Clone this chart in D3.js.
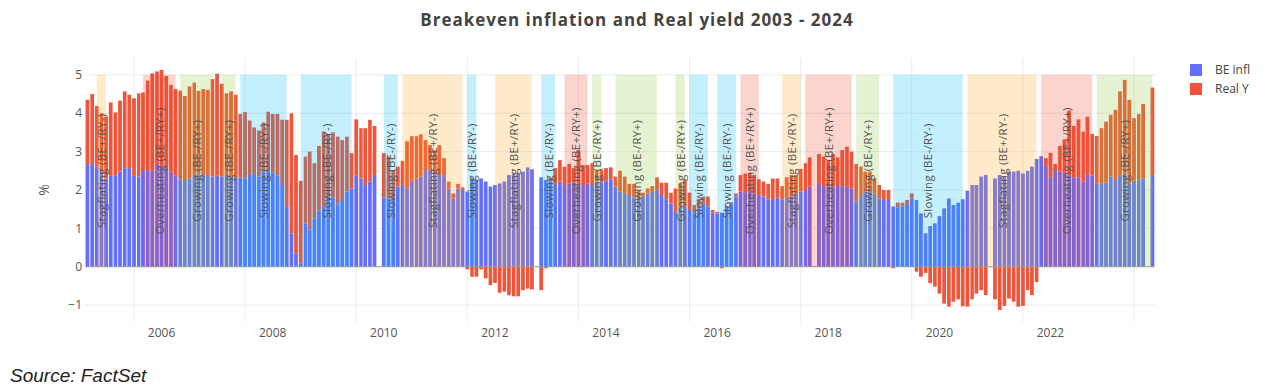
<!DOCTYPE html>
<html><head><meta charset="utf-8">
<script src="https://cdn.jsdelivr.net/npm/d3@7"></script>
<style>body{margin:0;background:#fff;} svg{display:block}</style>
</head><body><svg id="c" width="1266" height="386"></svg>
<script>
// ---------------- DATA ----------------
const startMonth = "2005-03";
const endMonth = "2024-05";
const seriesNames = ["BE infl", "Real Y"];
const beInfl = [
2.65,2.70,2.61,2.48,2.30,2.37,2.37,2.48,2.57,2.57,2.37,2.35,2.52,2.52,2.50,2.68,2.63,2.57,2.48,2.37,
2.28,2.26,2.30,2.39,2.43,2.39,2.39,2.35,2.37,2.35,2.39,2.35,2.33,2.33,2.30,2.39,2.42,2.35,2.48,2.50,
2.45,2.37,2.13,1.58,0.87,0.35,0.09,1.13,0.97,1.26,1.46,1.57,1.83,1.80,1.63,1.74,1.96,2.04,2.37,2.30,
2.13,2.22,2.39,null,1.81,1.78,1.76,2.09,2.13,2.06,2.24,2.30,2.35,2.52,2.54,2.43,2.42,2.39,2.04,1.78,
2.04,2.02,1.96,2.30,2.26,2.30,2.22,2.09,2.13,2.17,2.22,2.39,2.43,2.43,2.48,2.59,2.54,null,2.33,2.26,
2.22,2.13,2.22,2.13,2.17,2.19,2.16,2.13,2.17,2.13,2.22,2.19,2.24,2.28,2.09,1.96,1.91,1.87,1.81,1.78,
1.83,1.91,1.95,2.02,1.87,1.76,1.65,1.43,1.57,1.57,1.48,1.39,1.52,1.65,1.57,1.41,1.39,1.41,1.57,1.63,
1.83,1.96,1.94,1.96,1.91,1.87,1.83,1.76,1.74,1.81,1.76,1.81,1.84,1.91,1.96,2.00,2.09,null,2.16,2.10,
2.09,2.07,2.13,2.10,2.09,2.04,1.70,1.87,1.96,1.98,1.91,1.78,1.74,1.74,1.57,1.55,1.57,1.61,1.78,1.74,
1.39,0.87,1.06,1.13,1.32,1.52,1.78,1.61,1.67,1.76,1.98,2.13,2.13,2.35,2.39,null,2.30,2.39,2.35,2.48,
2.48,2.50,2.43,2.50,2.61,2.81,2.87,2.63,2.33,2.52,2.48,2.45,2.37,2.33,2.33,2.22,2.42,2.37,2.16,2.16,
2.19,2.35,2.26,2.37,2.42,2.16,2.24,2.28,2.30,null,2.39
];
const realY = [
1.70,1.80,1.58,1.52,1.61,1.91,1.65,1.85,2.00,1.91,2.02,2.17,2.02,2.33,2.54,2.41,2.50,2.40,2.26,2.26,
2.31,2.19,2.40,2.41,2.15,2.24,2.22,2.54,2.66,2.42,2.13,2.22,2.15,1.65,1.73,1.42,1.21,1.20,1.28,1.54,
1.53,1.61,1.70,2.25,3.13,2.56,2.15,1.74,2.03,1.44,1.69,1.95,1.63,1.70,1.76,1.56,1.43,0.92,1.47,1.31,
1.48,1.61,1.28,null,1.15,1.09,0.76,0.52,0.63,1.21,1.16,1.10,1.10,0.78,0.63,0.61,0.75,0.44,0.18,0.13,
0.12,0.05,-0.07,-0.26,-0.26,-0.07,-0.30,-0.48,-0.42,-0.68,-0.65,-0.74,-0.77,-0.77,-0.61,-0.57,-0.59,null,-0.61,-0.04,
0.10,0.44,0.56,0.48,0.51,0.38,0.88,0.52,0.48,0.57,0.30,0.33,0.33,0.31,0.26,0.54,0.44,0.29,0.35,0.21,
0.10,0.13,0.15,0.31,0.32,0.43,0.28,0.61,0.60,0.69,0.45,0.22,0.24,0.18,0.26,0.07,0.04,-0.04,0.02,0.05,
0.08,0.43,0.49,0.49,0.48,0.41,0.39,0.40,0.56,0.49,0.34,0.52,0.55,0.48,0.59,0.70,0.76,null,0.78,0.77,
0.69,0.87,0.72,0.94,1.04,0.96,0.98,0.74,0.52,0.50,0.39,0.35,0.26,0.26,-0.04,0.12,0.10,0.13,0.13,-0.13,
-0.26,-0.16,-0.43,-0.52,-0.70,-0.96,-1.04,-0.91,-0.85,-1.03,-1.04,-0.85,-0.70,-0.61,-0.74,null,-0.85,-1.13,-1.02,-0.83,
-0.91,-1.04,-1.02,-0.61,-0.74,-0.40,0.02,0.20,0.64,0.16,0.67,0.87,1.70,1.34,1.51,1.30,1.49,1.09,1.25,1.45,
1.59,1.61,1.83,2.20,2.45,2.19,1.63,1.70,1.94,null,2.28
];
const regimeType = ["Stagflating","Overheating","Growing","Growing","Slowing","Slowing","Slowing","Stagflating",
  "Slowing","Stagflating","Slowing","Overheating","Growing","Growing","Growing","Slowing","Slowing","Overheating",
  "Stagflating","Overheating","Growing","Slowing","Stagflating","Overheating","Growing"];
const regimeStart = ["2005-05","2006-03","2006-11","2007-08","2007-12","2009-01","2010-07","2010-11",
  "2012-01","2012-07","2013-05","2013-10","2014-04","2014-09","2015-10","2016-01","2016-07","2016-12",
  "2017-09","2018-02","2019-01","2019-09","2021-01","2022-05","2023-05"];
const regimeEnd = ["2005-07","2006-10","2007-06","2007-11","2008-10","2009-12","2010-10","2011-12",
  "2012-03","2013-03","2013-08","2014-03","2014-06","2015-06","2015-12","2016-05","2016-11","2017-04",
  "2018-01","2018-12","2019-06","2020-12","2022-04","2023-04","2024-05"];
const regimeNames = ["Slowing","Stagflating","Overheating","Growing"];
const regimeLabels = ["Slowing (BE-/RY-)","Stagflating (BE+/RY-)","Overheating (BE+/RY+)","Growing (BE-/RY+)"];
const yTicks = [-1, 0, 1, 2, 3, 4, 5];
const xTickYears = [2006, 2008, 2010, 2012, 2014, 2016, 2018, 2020, 2022, 2024];
const titleText = "Breakeven inflation and Real yield 2003 - 2024";
const sourceText = "Source: FactSet";

// ---------------- LAYOUT ----------------
const svg = d3.select("#c");
const W = 1266, H = 386;
const plot = {left: 85, right: 1155, top: 58, bottom: 322};
const colors = ["#636efa", "#ef553b"];
const regimeFill = d3.scaleOrdinal().domain(regimeNames)
  .range(["#00bcf0", "#ffa41a", "#f0452a", "#94cc3c"]);
const regimeOpacity = 0.23;
const labelOf = d3.scaleOrdinal().domain(regimeNames).range(regimeLabels);

const parseM = d3.utcParse("%Y-%m");
const months = d3.utcMonth.range(parseM(startMonth), d3.utcMonth.offset(parseM(endMonth), 1));
const x = d3.scaleUtc().domain([Date.UTC(2006,0,1), Date.UTC(2024,0,1)]).range([134, 1134]);
const y = d3.scaleLinear().domain([-1.44, 5.44]).range([plot.bottom, plot.top]);

svg.append("rect").attr("width", W).attr("height", H).attr("fill", "#fff");

svg.append("defs").append("clipPath").attr("id", "clip")
  .append("rect").attr("x", plot.left).attr("y", plot.top)
  .attr("width", plot.right - plot.left).attr("height", plot.bottom - plot.top);

const font = "'Open Sans', 'Noto Sans', sans-serif";

// grid
const grid = svg.append("g").attr("clip-path", "url(#clip)");
grid.selectAll("line.h").data(yTicks.filter(d => d !== 0)).join("line")
  .attr("x1", plot.left).attr("x2", plot.right)
  .attr("y1", d => y(d)).attr("y2", d => y(d))
  .attr("stroke", "#ebebeb").attr("stroke-width", 1);
grid.selectAll("line.v").data(xTickYears).join("line")
  .attr("x1", d => x(Date.UTC(d,0,1))).attr("x2", d => x(Date.UTC(d,0,1)))
  .attr("y1", plot.top).attr("y2", plot.bottom)
  .attr("stroke", "#ebebeb").attr("stroke-width", 1);

// bars
const rows = months.map((m, i) => ({m, be: beInfl[i], ry: realY[i]})).filter(d => d.be != null);
const bw = d => (x(d3.utcMonth.offset(d.m, 1)) - x(d.m)) * 0.8;
const bars = svg.append("g").attr("clip-path", "url(#clip)");
bars.selectAll("rect.be").data(rows).join("rect")
  .attr("x", d => x(d.m) - bw(d) / 2).attr("width", bw)
  .attr("y", d => y(d.be)).attr("height", d => y(0) - y(d.be))
  .attr("fill", colors[0]);
bars.selectAll("rect.ry").data(rows).join("rect")
  .attr("x", d => x(d.m) - bw(d) / 2).attr("width", bw)
  .attr("y", d => d.ry >= 0 ? y(d.be + d.ry) : y(0))
  .attr("height", d => d.ry >= 0 ? y(d.be) - y(d.be + d.ry) : y(d.ry) - y(0))
  .attr("fill", colors[1]);

// zero line
svg.append("line").attr("x1", plot.left).attr("x2", plot.right)
  .attr("y1", y(0)).attr("y2", y(0)).attr("stroke", "#9a9a9a").attr("stroke-width", 1);

// regimes
const regimes = regimeType.map((t, i) => ({t, s: parseM(regimeStart[i]), e: parseM(regimeEnd[i])}));
const rg = svg.append("g").attr("clip-path", "url(#clip)");
rg.selectAll("rect").data(regimes).join("rect")
  .attr("x", d => x(d.s)).attr("width", d => x(d.e) - x(d.s))
  .attr("y", y(5)).attr("height", y(0) - y(5))
  .attr("fill", d => regimeFill(d.t)).attr("opacity", regimeOpacity);
svg.append("g").selectAll("text").data(regimes).join("text")
  .attr("transform", d => `translate(${(x(d.s) + x(d.e)) / 2},${y(2.5)}) rotate(-90)`)
  .attr("text-anchor", "middle").attr("dominant-baseline", "central")
  .attr("font-family", font).attr("font-size", 11.5).attr("letter-spacing", 0.3).attr("fill", "#555")
  .text(d => labelOf(d.t));

// y axis labels
svg.append("g").selectAll("text").data(yTicks).join("text")
  .attr("x", plot.left - 3).attr("y", d => y(d)).attr("dy", "0.35em")
  .attr("text-anchor", "end").attr("font-family", font).attr("font-size", 12).attr("fill", "#555")
  .text(d => d < 0 ? "\u2212" + Math.abs(d) : d);
svg.append("text").attr("transform", `translate(43,${(plot.top + plot.bottom) / 2}) rotate(-90)`)
  .attr("text-anchor", "middle").attr("dominant-baseline", "central")
  .attr("font-family", font).attr("font-size", 14).attr("fill", "#555").text("%");

// x axis labels (period-centred)
svg.append("g").selectAll("text")
  .data(xTickYears.filter(d => x(Date.UTC(d,6,1)) < plot.right))
  .join("text")
  .attr("x", d => x(Date.UTC(d,6,1))).attr("y", plot.bottom + 15)
  .attr("text-anchor", "middle").attr("font-family", font).attr("font-size", 12).attr("fill", "#555")
  .text(d => d);

// legend
const lg = svg.append("g").attr("transform", "translate(1176,0)");
seriesNames.forEach((n, i) => {
  lg.append("rect").attr("x", 14).attr("y", 64 + i * 19).attr("width", 12).attr("height", 12).attr("fill", colors[i]);
  lg.append("text").attr("x", 39).attr("y", 70 + i * 19).attr("dy", "0.35em")
    .attr("font-family", font).attr("font-size", 12).attr("fill", "#444").text(n);
});

// title
svg.append("text").attr("x", 637).attr("y", 20).attr("dy", "0.35em").attr("text-anchor", "middle")
  .attr("font-family", font).attr("font-size", 17).attr("font-weight", "bold").attr("letter-spacing", 1)
  .attr("fill", "#444")
  .text(titleText);

// source
svg.append("text").attr("x", 10).attr("y", 382)
  .attr("font-family", "'Liberation Sans', Arial, sans-serif").attr("font-size", 19)
  .attr("font-style", "italic").attr("fill", "#222").text(sourceText);
</script></body></html>
